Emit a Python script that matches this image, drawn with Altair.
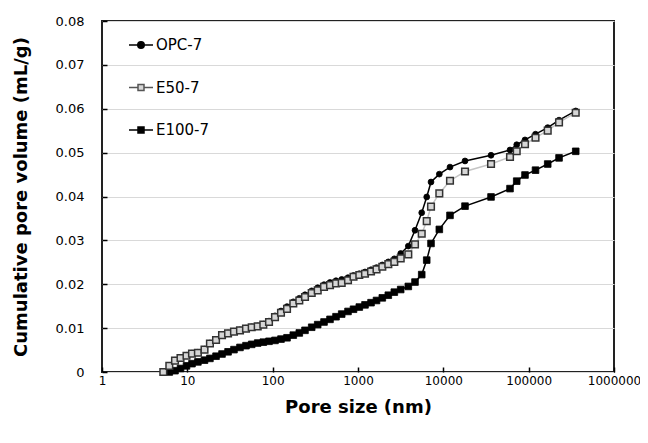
import altair as alt
import pandas as pd

# Pore size (nm) sampling points
pore_size = [5.23, 6.15, 7.17, 8.32, 9.78, 11.34, 13.3, 15.9, 18.4, 21.7,
             25.5, 30.0, 35.2, 41.4, 48.7, 56.8, 66.8, 77.7, 90.6, 106.5,
             125.2, 147.3, 174.5, 205.2, 239.3, 286.8, 337.2, 399.7, 469.9, 552.5,
             644.2, 763.6, 886, 1036, 1208, 1421, 1648, 1927, 2266, 2665,
             3166, 3887, 4656, 5581, 6388, 7172, 8974, 11970, 17950, 36220,
             60450, 72440, 90600, 120300, 167200, 226900, 356000]

opc = [0.0, 0.0015, 0.0027, 0.0033, 0.0038, 0.0043, 0.0045, 0.0052, 0.0066, 0.0074,
       0.0085, 0.0089, 0.0093, 0.0096, 0.0100, 0.0103, 0.0105, 0.0109, 0.0116, 0.0128,
       0.0139, 0.0149, 0.0160, 0.0168, 0.0176, 0.0185, 0.0192, 0.0199, 0.0204, 0.0208,
       0.0211, 0.0215, 0.0220, 0.0224, 0.0228, 0.0233, 0.0238, 0.0244, 0.0251, 0.0258,
       0.0270, 0.0287, 0.0323, 0.0363, 0.0399, 0.0433, 0.0451, 0.0467, 0.0481, 0.0494,
       0.0506, 0.0518, 0.0529, 0.0542, 0.0557, 0.0574, 0.0595]

e50 = [0.0, 0.0014, 0.0026, 0.0032, 0.0037, 0.0042, 0.0044, 0.0051, 0.0065, 0.0073,
       0.0084, 0.0088, 0.0092, 0.0095, 0.0099, 0.0102, 0.0104, 0.0108, 0.0114, 0.0125,
       0.0135, 0.0144, 0.0156, 0.0163, 0.0171, 0.0180, 0.0186, 0.0194, 0.0198, 0.0202,
       0.0203, 0.0209, 0.0217, 0.0221, 0.0224, 0.0229, 0.0234, 0.0240, 0.0246, 0.0251,
       0.0259, 0.0268, 0.0291, 0.0315, 0.0344, 0.0377, 0.0407, 0.0436, 0.0457, 0.0474,
       0.0490, 0.0503, 0.0519, 0.0534, 0.0550, 0.0569, 0.0591]

e100 = [None, 0.0, 0.0003, 0.0008, 0.0014, 0.0019, 0.0023, 0.0027, 0.0031, 0.0036,
        0.0041, 0.0046, 0.0051, 0.0056, 0.0060, 0.0063, 0.0066, 0.0068, 0.0070, 0.0072,
        0.0075, 0.0078, 0.0084, 0.0089, 0.0095, 0.0102, 0.0108, 0.0114, 0.0120, 0.0126,
        0.0132, 0.0138, 0.0143, 0.0148, 0.0153, 0.0158, 0.0163, 0.0169, 0.0175, 0.0182,
        0.0188, 0.0195, 0.0205, 0.0222, 0.0255, 0.0293, 0.0325, 0.0357, 0.0378, 0.0399,
        0.0418, 0.0435, 0.0449, 0.0460, 0.0474, 0.0488, 0.0503]

series_names = ["OPC-7", "E50-7", "E100-7"]
x_ticks = [1, 10, 100, 1000, 10000, 100000, 1000000]
y_ticks = [0, 0.01, 0.02, 0.03, 0.04, 0.05, 0.06, 0.07, 0.08]

rows = []
for name, vals in zip(series_names, [opc, e50, e100]):
    for xv, v in zip(pore_size, vals):
        if v is not None:
            rows.append({"series": name, "size": xv, "vol": v})
df = pd.DataFrame(rows)

W, H = 512, 351
FONT = "DejaVu Sans"

xscale = alt.Scale(type="log", domain=[1, 1000000])
yscale = alt.Scale(domain=[0, 0.08])

x_axis = alt.Axis(values=x_ticks, format="d", title="Pore size (nm)", grid=False,
                  ticks=False, tickSize=0, domain=False, labelPadding=3,
                  labelFontSize=12, labelFont=FONT, labelColor="black",
                  titleFontSize=18, titleFont=FONT, titleFontWeight="bold", titleColor="black",
                  titlePadding=12, labelFlush=False)
y_axis = alt.Axis(values=y_ticks, title="Cumulative pore volume (mL/g)", grid=True,
                  gridColor="#d9d9d9", gridWidth=1, ticks=False, tickSize=0, domain=False,
                  labelExpr="datum.value == 0 ? '0' : format(datum.value, '.2f')",
                  labelPadding=18, labelFontSize=13, labelFont=FONT, labelColor="black",
                  titleFontSize=18, titleFont=FONT, titleFontWeight="bold", titleColor="black",
                  titlePadding=25)

X = alt.X("size:Q", scale=xscale, axis=x_axis)
Y = alt.Y("vol:Q", scale=yscale, axis=y_axis)


def series_layers(name, line_color, shape, fill, stroke, size, sw):
    base = alt.Chart(df).transform_filter(alt.datum.series == name)
    line = base.mark_line(color=line_color, strokeWidth=1.5).encode(x=X, y=Y)
    pts = base.mark_point(shape=shape, filled=True, fill=fill, stroke=stroke,
                          strokeWidth=sw, size=size, opacity=1).encode(x=X, y=Y)
    return [line, pts]


layers = []
layers += series_layers("OPC-7", "black", "circle", "black", "black", 34, 0.8)
layers += series_layers("E100-7", "black", "square", "black", "black", 44, 0.8)
layers += series_layers("E50-7", "#c4c4c4", "square", "#d6d6d6", "#333333", 44, 1.5)

# legend symbols: line segment plus marker
p_circle = "M-1,0H1M0.27,0A0.27,0.27,0,1,1,-0.27,0A0.27,0.27,0,1,1,0.27,0Z"
p_square = "M-1,0H-0.25M0.25,0H1M-0.25,-0.25H0.25V0.25H-0.25Z"
legend = alt.Legend(title=None, orient="none", legendX=26, legendY=11, padding=0,
                    rowPadding=21.5, symbolSize=576, symbolStrokeWidth=1.5,
                    labelFontSize=15, labelFont=FONT, labelColor="black", labelOffset=2)
legend_layer = alt.Chart(df).transform_filter("false").mark_point(
    filled=True, size=576, strokeWidth=1.5, opacity=1).encode(
    x=X, y=Y,
    shape=alt.Shape("series:N", scale=alt.Scale(domain=series_names,
                                                range=[p_circle, p_square, p_square]),
                    legend=legend),
    fill=alt.Fill("series:N", scale=alt.Scale(domain=series_names,
                                              range=["black", "#d6d6d6", "black"]),
                  legend=legend),
    stroke=alt.Stroke("series:N", scale=alt.Scale(domain=series_names,
                                                  range=["black", "#555555", "black"]),
                      legend=legend),
)
layers.append(legend_layer)

data_chart = alt.layer(*layers)

# inward-pointing tick marks: opposite-side axes moved onto the plot edges
tick_layer = alt.Chart(df).mark_point(opacity=0).encode(
    x=alt.X("size:Q", scale=xscale,
            axis=alt.Axis(orient="top", offset=-H, values=x_ticks, labels=False,
                          domain=False, grid=False, ticks=True, tickSize=5,
                          tickColor="black", tickWidth=1.5, title=None)),
    y=alt.Y("vol:Q", scale=yscale,
            axis=alt.Axis(orient="right", offset=-W, values=y_ticks, labels=False,
                          domain=False, grid=False, ticks=True, tickSize=5,
                          tickColor="black", tickWidth=1.5, title=None)),
)

chart = alt.layer(data_chart, tick_layer).resolve_axis(
    x="independent", y="independent"
).properties(
    width=W, height=H,
    autosize=alt.AutoSizeParams(type="none"),
    padding={"left": 94, "top": 13, "right": 26, "bottom": 55},
    background="white",
).configure_view(stroke="#222222", strokeWidth=2)

chart.save("out.html", embed_options={"renderer": "svg", "actions": False})
